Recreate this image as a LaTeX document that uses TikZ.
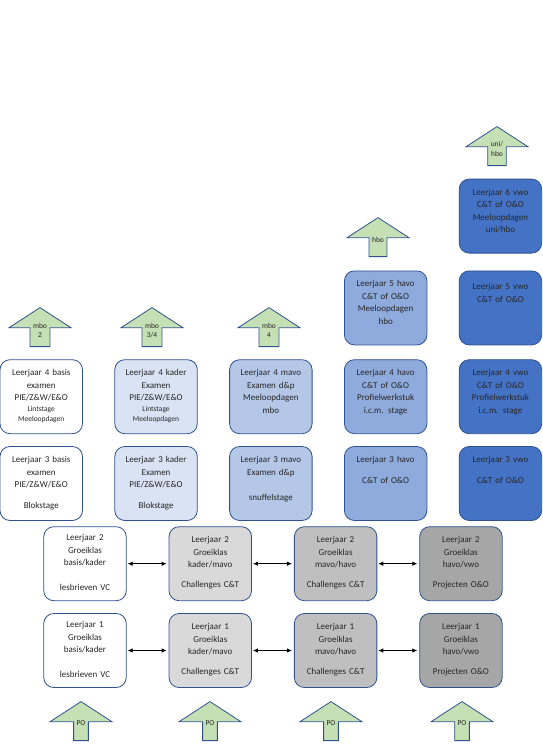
\documentclass[tikz,border=0pt]{standalone}
\usepackage{fontspec}
\setmainfont{Carlito}
\usepackage{tikz}
\usetikzlibrary{arrows.meta,positioning,shapes.arrows}
\definecolor{rand}{HTML}{2F528F}
\definecolor{groen}{HTML}{C5E0B4}
\definecolor{blauwa}{HTML}{DAE3F3}
\definecolor{blauwb}{HTML}{B4C7E7}
\definecolor{blauwc}{HTML}{8FAADC}
\definecolor{blauwd}{HTML}{4472C4}
\definecolor{grijsa}{HTML}{D9D9D9}
\definecolor{grijsb}{HTML}{BFBFBF}
\definecolor{grijsc}{HTML}{A6A6A6}
\definecolor{tekst}{HTML}{262626}
\newcommand{\klein}[1]{{\fontsize{7.5}{10}\selectfont #1}}

\begin{document}
\begin{tikzpicture}[x=1pt, y=-1pt,
      node distance=12pt and 42pt,
      vak/.style={rectangle, rounded corners=10pt, draw=rand, line width=0.8pt, fill=white,
                  text=tekst, text width=80pt, align=center, minimum width=82.5pt,
                  minimum height=74pt, inner sep=0pt, text height=9pt, text depth=51pt,
                  font=\fontsize{9}{12.5}\selectfont},
      grijs1/.style={vak, fill=grijsa},
      grijs2/.style={vak, fill=grijsb},
      grijs3/.style={vak, fill=grijsc},
      blauw1/.style={vak, fill=blauwa},
      blauw2/.style={vak, fill=blauwb},
      blauw3/.style={vak, fill=blauwc},
      blauw4/.style={vak, fill=blauwd},
      pijl/.style={single arrow, shape border rotate=90, draw=rand, line width=0.8pt, fill=groen,
                   minimum height=39pt, minimum width=62pt, single arrow head extend=15.5pt,
                   single arrow tip angle=114, inner sep=0pt, anchor=tail, text=tekst,
                   align=center, font=\fontsize{7.5}{9.5}\selectfont},
      dubbel/.style={{Latex[length=5pt,width=4.5pt]}-{Latex[length=5pt,width=4.5pt]},
                     draw=black, line width=0.8pt, shorten <=1pt, shorten >=2pt}]

    \useasboundingbox (0,0) rectangle (543,745);

    % onderbouw: groeiklassen
    \node[vak, text height=5pt] (l1a) at (85,650.5) {Leerjaar 1\\Groeiklas\\basis/kader\\[12.5pt]lesbrieven VC};
    \node[grijs1, right=of l1a] (l1b) {Leerjaar 1\\Groeiklas\\kader/mavo\\[7pt]Challenges C\&T};
    \node[grijs2, right=of l1b] (l1c) {Leerjaar 1\\Groeiklas\\mavo/havo\\[7pt]Challenges C\&T};
    \node[grijs3, right=of l1c] (l1d) {Leerjaar 1\\Groeiklas\\havo/vwo\\[7pt]Projecten O\&O};

    \node[vak, text height=5pt, above=of l1a] (l2a) {Leerjaar 2\\Groeiklas\\basis/kader\\[12.5pt]lesbrieven VC};
    \node[grijs1, above=of l1b] (l2b) {Leerjaar 2\\Groeiklas\\kader/mavo\\[7pt]Challenges C\&T};
    \node[grijs2, above=of l1c] (l2c) {Leerjaar 2\\Groeiklas\\mavo/havo\\[7pt]Challenges C\&T};
    \node[grijs3, above=of l1d] (l2d) {Leerjaar 2\\Groeiklas\\havo/vwo\\[7pt]Projecten O\&O};

    % bovenbouw
    \node[vak] (l3a) at (41.25,483.5) {Leerjaar 3 basis\\examen\\PIE/Z\&W/E\&O\\[8pt]Blokstage};
    \node[blauw1, right=31.5pt of l3a] (l3b) {Leerjaar 3 kader\\Examen\\PIE/Z\&W/E\&O\\[8pt]Blokstage};
    \node[blauw2, right=31.5pt of l3b] (l3c) {Leerjaar 3 mavo\\Examen d\&p\\[12.5pt]snuffelstage};
    \node[blauw3, right=31.5pt of l3c] (l3d) {Leerjaar 3 havo\\[8pt]C\&T of O\&O};
    \node[blauw4, right=31.5pt of l3d] (l3e) {Leerjaar 3 vwo\\[8pt]C\&T of O\&O};

    \node[vak, above=of l3a] (l4a) {Leerjaar 4 basis\\examen\\PIE/Z\&W/E\&O\\[-2pt]\klein{Lintstage}\\[-2pt]\klein{Meeloopdagen}};
    \node[blauw1, above=of l3b] (l4b) {Leerjaar 4 kader\\Examen\\PIE/Z\&W/E\&O\\[-2pt]\klein{Lintstage}\\[-2pt]\klein{Meeloopdagen}};
    \node[blauw2, above=of l3c] (l4c) {Leerjaar 4 mavo\\Examen d\&p\\Meeloopdagen\\mbo};
    \node[blauw3, above=of l3d] (l4d) {Leerjaar 4 havo\\C\&T of O\&O\\Profielwerkstuk\\i.c.m. stage};
    \node[blauw4, above=of l3e] (l4e) {Leerjaar 4 vwo\\C\&T of O\&O\\Profielwerkstuk\\i.c.m. stage};

    \node[blauw3, above=14pt of l4d] (l5d) {Leerjaar 5 havo\\C\&T of O\&O\\Meeloopdagen\\hbo};
    \node[blauw4, text height=15pt, above=14pt of l4e] (l5e) {Leerjaar 5 vwo\\C\&T of O\&O};
    \node[blauw4, above=17pt of l5e] (l6e) {Leerjaar 6 vwo\\C\&T of O\&O\\Meeloopdagen\\uni/hbo};

    % doorstroom
    \node[pijl] (po1) at (81,741) {PO};
    \node[pijl] (po2) at (210,741) {PO};
    \node[pijl] (po3) at (331,741) {PO};
    \node[pijl] (po4) at (462,741) {PO};
    \node[pijl] (mbo2) at (40,347) {mbo\\2};
    \node[pijl] (mbo34) at (152,347) {mbo\\3/4};
    \node[pijl] (mbo4) at (269,347) {mbo\\4};
    \node[pijl] (hbo) at (378,257) {hbo};
    \node[pijl] (uni) at (497,166) {uni/\\hbo};

    \draw[dubbel] (l2a) -- (l2b);
    \draw[dubbel] (l2b) -- (l2c);
    \draw[dubbel] (l2c) -- (l2d);
    \draw[dubbel] (l1a) -- (l1b);
    \draw[dubbel] (l1b) -- (l1c);
    \draw[dubbel] (l1c) -- (l1d);
\end{tikzpicture}
\end{document}
